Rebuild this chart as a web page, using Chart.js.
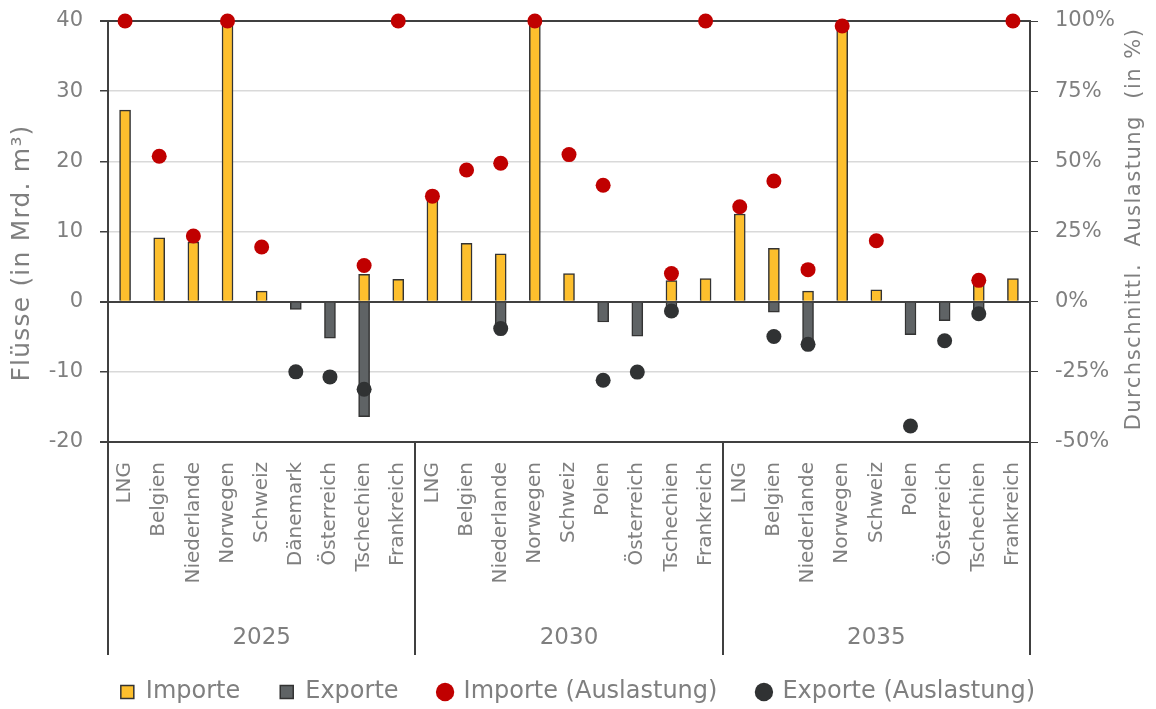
<!DOCTYPE html>
<html lang="de">
<head>
<meta charset="utf-8">
<title>Gasflüsse</title>
<script src="https://cdn.jsdelivr.net/npm/chart.js@4"></script>
<style>
  html, body { margin: 0; padding: 0; background: #fff; }
  #wrap { width: 1156px; height: 709px; position: relative; }
</style>
</head>
<body>
<div id="wrap"><canvas id="fluesse"></canvas></div>
<script>
// Länder je Stützjahr
const jahre = ['2025', '2030', '2035'];
const laender2025 = ['LNG', 'Belgien', 'Niederlande', 'Norwegen', 'Schweiz', 'Dänemark', 'Österreich', 'Tschechien', 'Frankreich'];
const laender2030 = ['LNG', 'Belgien', 'Niederlande', 'Norwegen', 'Schweiz', 'Polen', 'Österreich', 'Tschechien', 'Frankreich'];
const laender2035 = ['LNG', 'Belgien', 'Niederlande', 'Norwegen', 'Schweiz', 'Polen', 'Österreich', 'Tschechien', 'Frankreich'];

// Flüsse in Mrd. m³ (null = kein Fluss)
const importe2025 = [27.3, 9.1, 8.5, 39.5, 1.5, null, null, 3.9, 3.2];
const importe2030 = [14.7, 8.3, 6.8, 39.5, 4.0, null, null, 3.0, 3.3];
const importe2035 = [12.5, 7.6, 1.5, 38.9, 1.7, null, null, 2.6, 3.3];

const exporte2025 = [null, null, null, null, null, -1.1, -5.2, -16.4, null];
const exporte2030 = [null, null, -3.7, null, null, -2.9, -4.9, -1.0, null];
const exporte2035 = [null, -1.5, -5.6, null, null, -4.7, -2.7, -1.2, null];

// Durchschnittliche Auslastung in %
const importeAusl2025 = [100, 51.8, 23.4, 100, 19.5, null, null, 12.9, 100];
const importeAusl2030 = [37.6, 46.9, 49.3, 100, 52.4, 41.5, null, 10.0, 100];
const importeAusl2035 = [33.8, 43.0, 11.4, 98.2, 21.7, null, null, 7.6, 100];

const exporteAusl2025 = [null, null, null, null, null, -25.0, -26.8, -31.2, null];
const exporteAusl2030 = [null, null, -9.6, null, null, -28.0, -25.1, -3.3, null];
const exporteAusl2035 = [null, -12.4, -15.2, null, null, -44.3, -13.9, -4.3, null];

const gruppen = [laender2025, laender2030, laender2035];
const labels = [].concat(laender2025, laender2030, laender2035);
const importe = [].concat(importe2025, importe2030, importe2035);
const exporte = [].concat(exporte2025, exporte2030, exporte2035);
const importeAuslastung = [].concat(importeAusl2025, importeAusl2030, importeAusl2035);
const exporteAuslastung = [].concat(exporteAusl2025, exporteAusl2030, exporteAusl2035);

const grau = '#7F7F7F';
const linie = '#404040';
const schrift = "'DejaVu Sans', sans-serif";

// feste Achsenbreite, ohne Zusatzabstand für die Randbeschriftung
const festeBreite = breite => s => {
  s.width = breite;
  s.paddingTop = 0;
  s.paddingBottom = 0;
};

// Jahres-Trennlinien, Jahreszahlen und beide Achsentitel
const gruppenPlugin = {
  id: 'gruppen',
  afterDraw(chart) {
    const { ctx, chartArea } = chart;
    const x = chart.scales.x;
    ctx.save();
    ctx.strokeStyle = linie;
    ctx.lineWidth = 2;
    let start = 0;
    const grenzen = [start];
    gruppen.forEach(g => { start += g.length; grenzen.push(start); });
    grenzen.forEach(i => {
      const px = Math.round(x.getPixelForValue(i - 0.5));
      ctx.beginPath();
      ctx.moveTo(px, chartArea.bottom);
      ctx.lineTo(px, 655);
      ctx.stroke();
    });
    ctx.fillStyle = grau;
    ctx.font = '23px ' + schrift;
    ctx.textAlign = 'center';
    ctx.textBaseline = 'middle';
    jahre.forEach((jahr, k) => {
      const mitte = (x.getPixelForValue(grenzen[k] - 0.5) + x.getPixelForValue(grenzen[k + 1] - 0.5)) / 2;
      ctx.fillText(jahr, mitte, 638);
    });
    // Achsentitel, von unten nach oben gelesen
    ctx.save();
    ctx.font = '25px ' + schrift;
    ctx.letterSpacing = '1.2px';
    ctx.translate(22, 253);
    ctx.rotate(-Math.PI / 2);
    ctx.fillText('Flüsse (in Mrd. m³)', 0, 0);
    ctx.restore();
    ctx.font = '21px ' + schrift;
    ctx.letterSpacing = '1.5px';
    ctx.translate(1135, 229);
    ctx.rotate(-Math.PI / 2);
    ctx.fillText('Durchschnittl.  Auslastung  (in %)', 0, 0);
    ctx.restore();
  }
};

new Chart(document.getElementById('fluesse'), {
  data: {
    labels: labels,
    datasets: [
      {
        type: 'bar',
        label: 'Importe',
        data: importe,
        backgroundColor: '#FDBF2D',
        borderColor: '#333333',
        borderWidth: 1.5,
        barThickness: 11,
        grouped: false,
        pointStyle: 'rect',
        yAxisID: 'y',
        order: 2
      },
      {
        type: 'bar',
        label: 'Exporte',
        data: exporte,
        backgroundColor: '#5F6365',
        borderColor: '#333333',
        borderWidth: 1.5,
        barThickness: 11,
        grouped: false,
        pointStyle: 'rect',
        yAxisID: 'y',
        order: 2
      },
      {
        type: 'line',
        label: 'Importe (Auslastung)',
        data: importeAuslastung,
        showLine: false,
        pointStyle: 'circle',
        pointRadius: 7.5,
        pointHoverRadius: 7.5,
        pointBorderWidth: 0,
        borderWidth: 0,
        pointBackgroundColor: '#C00000',
        backgroundColor: '#C00000',
        borderColor: '#C00000',
        clip: false,
        yAxisID: 'y2',
        order: 1
      },
      {
        type: 'line',
        label: 'Exporte (Auslastung)',
        data: exporteAuslastung,
        showLine: false,
        pointStyle: 'circle',
        pointRadius: 7.5,
        pointHoverRadius: 7.5,
        pointBorderWidth: 0,
        borderWidth: 0,
        pointBackgroundColor: '#303233',
        backgroundColor: '#303233',
        borderColor: '#303233',
        clip: false,
        yAxisID: 'y2',
        order: 1
      }
    ]
  },
  options: {
    responsive: true,
    maintainAspectRatio: false,
    animation: false,
    layout: { padding: { top: 21, left: 0, right: 0, bottom: -5 } },
    plugins: {
      tooltip: { enabled: false },
      legend: {
        position: 'bottom',
        labels: {
          usePointStyle: true,
          boxHeight: 13,
          boxWidth: 13,
          padding: 40,
          color: grau,
          font: { family: schrift, size: 24 },
          sort: (a, b) => a.datasetIndex - b.datasetIndex
        }
      }
    },
    scales: {
      x: {
        type: 'category',
        offset: true,
        grid: { display: false },
        border: { display: false },
        ticks: {
          autoSkip: false,
          maxRotation: 90,
          minRotation: 90,
          padding: 12,
          color: grau,
          font: { family: schrift, size: 20 }
        },
        afterFit: s => { s.height = 198; }
      },
      y: {
        position: 'left',
        min: -20,
        max: 40,
        ticks: {
          stepSize: 10,
          padding: 17,
          color: grau,
          font: { family: schrift, size: 21 }
        },
        grid: {
          color: c => [40, 0, -20].includes(c.tick.value) ? linie : '#D9D9D9',
          lineWidth: c => [40, 0, -20].includes(c.tick.value) ? 2 : 1.5,
          tickColor: linie,
          tickLength: 8
        },
        border: { color: linie, width: 2 },
        afterFit: festeBreite(108)
      },
      y2: {
        position: 'right',
        min: -50,
        max: 100,
        ticks: {
          stepSize: 25,
          padding: 17,
          color: grau,
          font: { family: schrift, size: 21 },
          callback: v => v + '%'
        },
        grid: {
          drawOnChartArea: false,
          tickColor: linie,
          tickLength: 8
        },
        border: { color: linie, width: 2 },
        afterFit: festeBreite(126)
      }
    }
  },
  plugins: [gruppenPlugin]
});
</script>
</body>
</html>
